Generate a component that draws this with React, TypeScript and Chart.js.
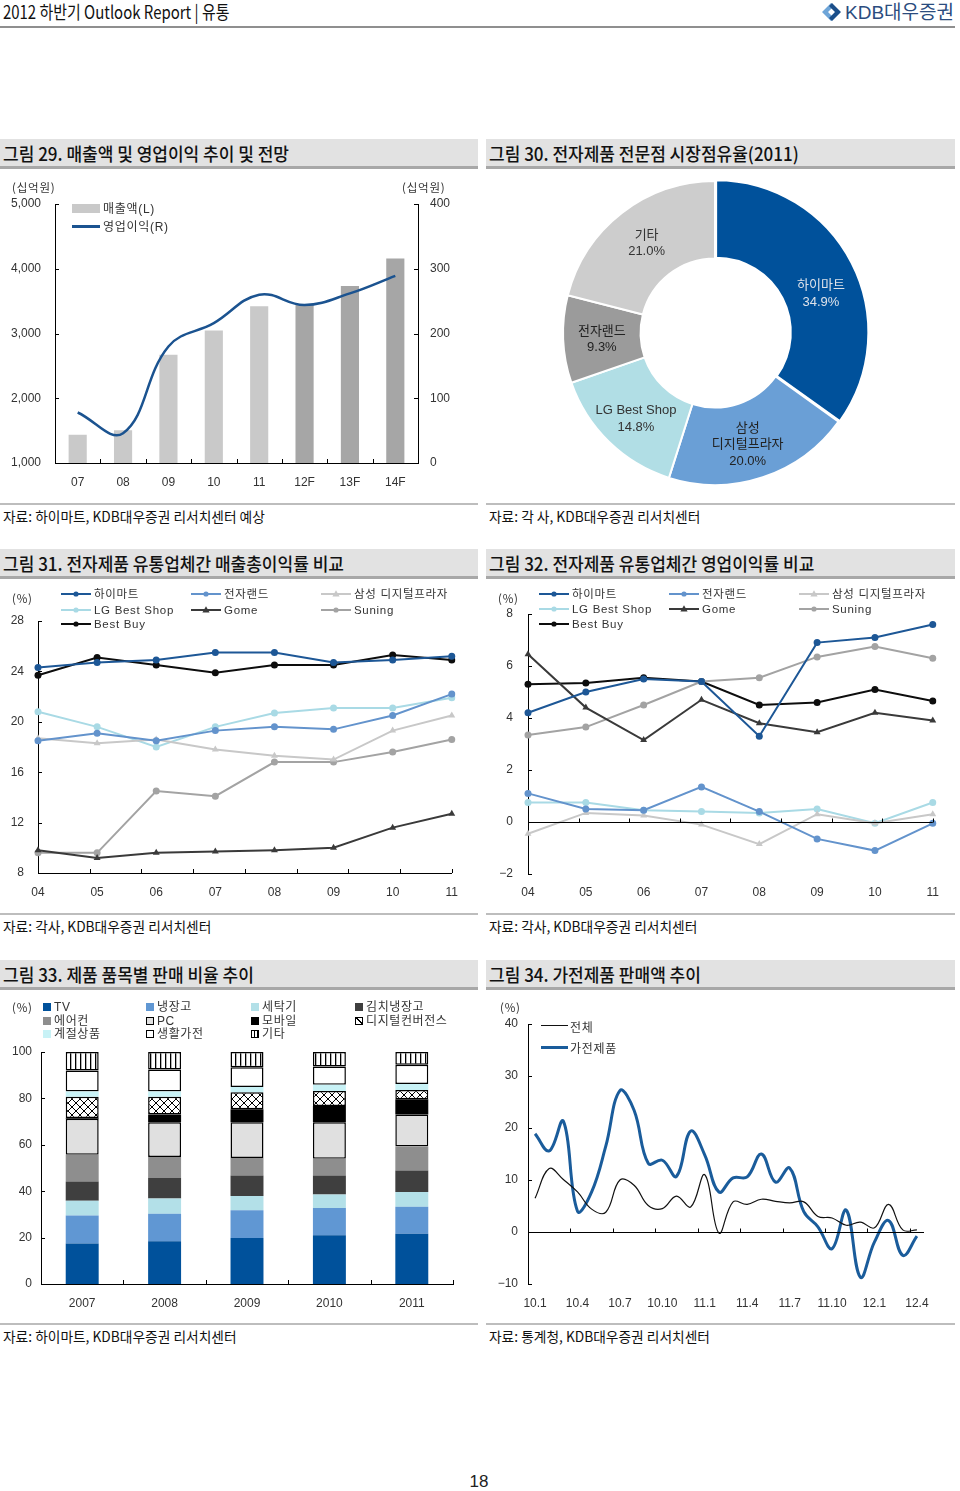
import React, { useEffect, useRef } from 'react';
import { Chart, registerables } from 'chart.js';

Chart.register(...registerables);

const KFONT = "'Noto Sans CJK KR', 'Noto Sans', sans-serif";
const NFONT = "'Liberation Sans', Arial, 'Noto Sans CJK KR', sans-serif";

// ===== Figure 29: sales & operating profit =====
const salesYears = ['07', '08', '09', '10', '11', '12F', '13F', '14F'];
const salesValues = [1437, 1504, 2671, 3046, 3422, 3442, 3735, 4157];
const opProfitValues = [78, 46, 180, 216, 260, 244, 262, 289];
const salesSeriesNames = ['매출액(L)', '영업이익(R)'];

// ===== Figure 30: market share 2011 =====
const shareLabels: (string | string[])[] = ['하이마트', ['삼성', '디지털프라자'], 'LG Best Shop', '전자랜드', '기타'];
const shareValues = [34.9, 20.0, 14.8, 9.3, 21.0];

// ===== Figures 31 / 32 =====
const retailYears = ['04', '05', '06', '07', '08', '09', '10', '11'];
const retailerNames = ['하이마트', '전자랜드', '삼성 디지털프라자', 'LG Best Shop', 'Gome', 'Suning', 'Best Buy'];
const grossHimart = [24.3, 24.7, 24.9, 25.5, 25.5, 24.7, 24.9, 25.2];
const grossEtland = [18.5, 19.1, 18.5, 19.3, 19.6, 19.4, 20.5, 22.2];
const grossSamsung = [18.7, 18.3, 18.6, 17.8, 17.3, 17.0, 19.3, 20.5];
const grossLG = [20.8, 19.6, 18.0, 19.6, 20.7, 21.1, 21.1, 21.9];
const grossGome = [9.8, 9.2, 9.6, 9.7, 9.8, 10.0, 11.6, 12.7];
const grossSuning = [9.6, 9.6, 14.5, 14.1, 16.8, 16.8, 17.6, 18.6];
const grossBestBuy = [23.7, 25.1, 24.5, 23.9, 24.5, 24.5, 25.3, 24.9];

const opHimart = [4.2, 5.0, 5.5, 5.4, 3.3, 6.9, 7.1, 7.6];
const opEtland = [1.1, 0.5, 0.45, 1.35, 0.4, -0.65, -1.1, -0.05];
const opSamsung = [-0.45, 0.35, 0.25, -0.1, -0.85, 0.3, -0.05, 0.3];
const opLG = [0.75, 0.75, 0.45, 0.4, 0.35, 0.5, -0.05, 0.75];
const opGome = [6.45, 4.4, 3.15, 4.7, 3.8, 3.45, 4.2, 3.9];
const opSuning = [3.35, 3.65, 4.5, 5.4, 5.55, 6.35, 6.75, 6.3];
const opBestBuy = [5.3, 5.35, 5.55, 5.4, 4.5, 4.6, 5.1, 4.65];

// ===== Figure 33: product mix =====
const mixYears = ['2007', '2008', '2009', '2010', '2011'];
const mixCategories = ['TV', '냉장고', '세탁기', '김치냉장고', '에어컨', 'PC', '모바일', '디지털컨버전스', '계절상품', '생활가전', '기타'];
const mixTV = [17.5, 18.4, 19.8, 21.0, 21.7];
const mixFridge = [12.0, 11.9, 12.0, 11.8, 11.6];
const mixWasher = [6.4, 6.5, 6.1, 5.8, 6.4];
const mixKimchi = [8.3, 8.9, 8.9, 8.2, 9.2];
const mixAircon = [11.5, 9.0, 7.5, 7.2, 10.4];
const mixPC = [15.5, 15.0, 15.4, 15.7, 13.8];
const mixMobile = [0.4, 3.4, 5.6, 7.0, 6.5];
const mixDigital = [9.1, 7.6, 7.3, 6.5, 4.0];
const mixSeasonal = [2.3, 2.3, 2.3, 2.7, 2.6];
const mixLiving = [9.0, 9.5, 8.5, 7.9, 8.3];
const mixOther = [8.0, 7.5, 6.6, 6.2, 5.5];

// ===== Figure 34: monthly sales growth =====
const monthLabels = [
  '10.1', '10.2', '10.3', '10.4', '10.5', '10.6', '10.7', '10.8', '10.9', '10.10', '10.11', '10.12',
  '11.1', '11.2', '11.3', '11.4', '11.5', '11.6', '11.7', '11.8', '11.9', '11.10', '11.11', '11.12',
  '12.1', '12.2', '12.3', '12.4',
];
const totalSalesGrowth = [6.5, 12.2, 10.1, 7.7, 4.4, 3.8, 10.0, 9.0, 5.1, 4.5, 6.9, 4.8, 11.0, -0.2, 5.8, 5.3, 6.3, 5.9, 5.6, 5.8, 3.0, 2.7, 1.3, 1.9, 0.8, 5.3, 0.4, 0.4];
const applianceSalesGrowth = [18.9, 15.6, 21.3, 4.0, 7.7, 16.5, 27.2, 23.4, 13.2, 13.8, 10.7, 19.4, 14.8, 7.7, 10.4, 10.6, 15.0, 9.6, 12.3, 3.9, 1.0, -3.2, 4.2, -8.7, -1.9, 2.2, -4.5, -0.8];
const growthSeriesNames = ['전체', '가전제품'];

// ===== styles =====
const retailColors = ['#1d5796', '#6393cc', '#c8c8c8', '#a9dae5', '#3a3a3a', '#a3a3a3', '#0d0d0d'];
const retailMarkers = ['circle', 'circle', 'triangle', 'circle', 'triangle', 'circle', 'circle'];
const shareColors = ['#00519b', '#6a9fd6', '#b1dee5', '#9b9b9b', '#cdcdcd'];
const shareTextColors = ['#dde2ea', '#222', '#333', '#222', '#333'];
const mixFills = ['#00519b', '#6097d3', '#b3e0e8', '#3f3f3f', '#8e8e8e', '#e0e0e0', '#000000', 'cross', '#c8f2f6', '#ffffff', 'vstripe'];
const mixBordered = [false, false, false, false, false, true, false, true, false, true, true];

const axisTicks = {
  id: 'axisTicks',
  afterDatasetsDraw(chart: any, _args: any, opts: any) {
    if (!opts || !opts.on) return;
    const ctx = chart.ctx;
    const ca = chart.chartArea;
    const len = opts.len ?? 4;
    ctx.save();
    ctx.strokeStyle = '#000';
    ctx.lineWidth = 1;
    (opts.yAxes || []).forEach((id: string) => {
      const s = chart.scales[id];
      const left = s.position === 'left';
      const x0 = left ? ca.left : ca.right;
      s.ticks.forEach((_t: any, i: number) => {
        const y = Math.round(s.getPixelForTick(i)) + 0.5;
        ctx.beginPath();
        ctx.moveTo(x0, y);
        ctx.lineTo(left ? x0 + len : x0 - len, y);
        ctx.stroke();
      });
    });
    if (opts.x) {
      const xs = chart.scales.x;
      let base = ca.bottom;
      if (opts.x.zeroAxis) {
        base = Math.round(chart.scales[opts.x.zeroAxis].getPixelForValue(0)) + 0.5;
        ctx.beginPath();
        ctx.moveTo(ca.left, base);
        ctx.lineTo(ca.right, base);
        ctx.stroke();
      }
      const n = chart.data.labels.length;
      const step = opts.x.step || 1;
      const last = opts.x.includeEnd ? n : n - 1;
      for (let i = step; i <= last; i += step) {
        const px = Math.round(xs.left + (i * xs.width) / n) + 0.5;
        ctx.beginPath();
        ctx.moveTo(px, base);
        ctx.lineTo(px, base - len);
        ctx.stroke();
      }
    }
    ctx.restore();
  },
};

const sliceLabels = {
  id: 'sliceLabels',
  afterDatasetsDraw(chart: any, _args: any, opts: any) {
    if (!opts || !opts.on) return;
    const ctx = chart.ctx;
    const meta = chart.getDatasetMeta(0);
    const ds = chart.data.datasets[0];
    ctx.save();
    ctx.font = `13px ${NFONT}`;
    ctx.textAlign = 'center';
    ctx.textBaseline = 'middle';
    meta.data.forEach((arc: any, i: number) => {
      const p = arc.tooltipPosition(false);
      const lbl = chart.data.labels[i];
      const lines = [...(Array.isArray(lbl) ? lbl : [lbl]), Number(ds.data[i]).toFixed(1) + '%'];
      const nudge = (opts.nudge && opts.nudge[i]) || [0, 0];
      const lh = 16.5;
      ctx.fillStyle = opts.colors[i];
      lines.forEach((t: string, k: number) => {
        ctx.fillText(t, p.x + nudge[0], p.y + nudge[1] + (k - (lines.length - 1) / 2) * lh);
      });
    });
    ctx.restore();
  },
};

const tickFont = { size: 12, family: NFONT };
const noGrid = { display: false, drawTicks: false };
const blackBorder = { display: true, color: '#000', width: 1 };
const minusFmt = (v: any) => (Number(v) < 0 ? '\u2212' + Math.abs(Number(v)) : String(v));

function base(padding: any, extraPlugins: any) {
  return {
    responsive: false,
    animation: false,
    devicePixelRatio: 1,
    layout: { padding },
    plugins: { legend: { display: false }, tooltip: { enabled: false }, ...extraPlugins },
  };
}

function makeFig29() {
  return {
    type: 'bar',
    data: {
      labels: salesYears,
      datasets: [
        {
          type: 'line', label: salesSeriesNames[1], data: opProfitValues, yAxisID: 'y1',
          borderColor: '#1b5390', borderWidth: 2.5, pointRadius: 0, tension: 0.4, order: 0,
        },
        {
          type: 'bar', label: salesSeriesNames[0], data: salesValues, yAxisID: 'y',
          backgroundColor: salesYears.map((y) => (y.endsWith('F') ? '#a6a6a6' : '#c9c9c9')),
          barPercentage: 0.4, categoryPercentage: 1, order: 1,
        },
      ],
    },
    options: {
      ...base({ left: 0, top: 24, right: 0, bottom: 0 }, { axisTicks: { on: true, yAxes: ['y', 'y1'], x: { includeEnd: false }, len: 4 } }),
      scales: {
        x: { grid: noGrid, border: blackBorder, ticks: { padding: 12, color: '#333', font: tickFont }, afterFit(s: any) { s.height = 32; } },
        y: {
          position: 'left', min: 1000, max: 5000, grid: noGrid, border: blackBorder,
          ticks: { stepSize: 1000, padding: 14, color: '#333', font: tickFont, callback: (v: any) => Number(v).toLocaleString('en-US') },
          afterFit(s: any) { s.width = 55; },
        },
        y1: {
          position: 'right', min: 0, max: 400, grid: noGrid, border: blackBorder,
          ticks: { stepSize: 100, padding: 12, color: '#333', font: tickFont },
          afterFit(s: any) { s.width = 52; },
        },
      },
    },
    plugins: [axisTicks],
  };
}

function makeFig30() {
  return {
    type: 'doughnut',
    data: {
      labels: shareLabels,
      datasets: [{
        data: shareValues, backgroundColor: shareColors, borderColor: '#ffffff', borderWidth: 2,
        offset: [5, 0, 0, 0, 0],
      }],
    },
    options: {
      ...base({ left: 0, right: 0, top: 0, bottom: 4 }, {
        sliceLabels: { on: true, colors: shareTextColors, nudge: [[3, 14], [-3, 4], [0, 5], [0, 2], [1, 0]] },
      }),
      radius: 152,
      cutout: '49%',
    },
    plugins: [sliceLabels],
  };
}

function retailDatasets(series: number[][]) {
  return series.map((data, i) => ({
    label: retailerNames[i], data,
    borderColor: retailColors[i], backgroundColor: retailColors[i],
    pointBackgroundColor: retailColors[i], pointBorderColor: retailColors[i],
    borderWidth: 2, pointStyle: retailMarkers[i], pointRadius: retailMarkers[i] === 'triangle' ? 4 : 3.5,
    pointBorderWidth: 0, tension: 0,
  }));
}

function makeFig31() {
  return {
    type: 'line',
    data: {
      labels: retailYears,
      datasets: retailDatasets([grossHimart, grossEtland, grossSamsung, grossLG, grossGome, grossSuning, grossBestBuy]),
    },
    options: {
      ...base({ left: 0, top: 36, right: 17, bottom: 0 }, { axisTicks: { on: true, yAxes: ['y'], x: { includeEnd: true }, len: 4 } }),
      scales: {
        x: { grid: noGrid, border: blackBorder, ticks: { padding: 12, color: '#333', font: tickFont }, afterFit(s: any) { s.height = 32; } },
        y: {
          position: 'left', min: 8, max: 28, grid: noGrid, border: blackBorder,
          ticks: { stepSize: 4, padding: 14, color: '#333', font: tickFont },
          afterFit(s: any) { s.width = 38; },
        },
      },
    },
    plugins: [axisTicks],
  };
}

function makeFig32() {
  return {
    type: 'line',
    data: {
      labels: retailYears,
      datasets: retailDatasets([opHimart, opEtland, opSamsung, opLG, opGome, opSuning, opBestBuy]),
    },
    options: {
      ...base({ left: 0, top: 29, right: 10, bottom: 0 }, { axisTicks: { on: true, yAxes: ['y'], x: { includeEnd: true, zeroAxis: 'y' }, len: 4 } }),
      scales: {
        x: { grid: noGrid, border: { display: false }, ticks: { padding: 11, color: '#333', font: tickFont }, afterFit(s: any) { s.height = 31; } },
        y: {
          position: 'left', min: -2, max: 8, grid: noGrid, border: blackBorder,
          ticks: { stepSize: 2, padding: 15, color: '#333', font: tickFont, callback: minusFmt },
          afterFit(s: any) { s.width = 48; },
        },
      },
    },
    plugins: [axisTicks],
  };
}

function makePattern(kind: string) {
  const c = document.createElement('canvas');
  const g = c.getContext('2d')!;
  if (kind === 'cross') {
    c.width = 8; c.height = 8;
    g.fillStyle = '#fff'; g.fillRect(0, 0, 8, 8);
    g.strokeStyle = '#000'; g.lineWidth = 1;
    g.beginPath(); g.moveTo(0, 0); g.lineTo(8, 8); g.moveTo(8, 0); g.lineTo(0, 8); g.stroke();
  } else {
    c.width = 5; c.height = 5;
    g.fillStyle = '#fff'; g.fillRect(0, 0, 5, 5);
    g.fillStyle = '#000'; g.fillRect(0, 0, 1.3, 5);
  }
  return g.createPattern(c, 'repeat');
}

function makeFig33() {
  const series = [mixTV, mixFridge, mixWasher, mixKimchi, mixAircon, mixPC, mixMobile, mixDigital, mixSeasonal, mixLiving, mixOther];
  return {
    type: 'bar',
    data: {
      labels: mixYears,
      datasets: series.map((data, i) => {
        const f = mixFills[i];
        const bg = f === 'cross' || f === 'vstripe' ? makePattern(f) : f;
        return {
          label: mixCategories[i], data, backgroundColor: bg,
          borderColor: '#000', borderWidth: mixBordered[i] ? 1.5 : 0, borderSkipped: false,
          barPercentage: 0.4, categoryPercentage: 1,
        };
      }),
    },
    options: {
      ...base({ left: 0, top: 57, right: 17, bottom: 0 }, { axisTicks: { on: true, yAxes: ['y'], x: { includeEnd: true }, len: 4 } }),
      scales: {
        x: { stacked: true, grid: noGrid, border: blackBorder, ticks: { padding: 12, color: '#333', font: tickFont }, afterFit(s: any) { s.height = 31; } },
        y: {
          stacked: true, position: 'left', min: 0, max: 100, grid: noGrid, border: blackBorder,
          ticks: { stepSize: 20, padding: 9, color: '#333', font: tickFont },
          afterFit(s: any) { s.width = 41; },
        },
      },
    },
    plugins: [axisTicks],
  };
}

function makeFig34() {
  return {
    type: 'line',
    data: {
      labels: monthLabels,
      datasets: [
        { label: growthSeriesNames[0], data: totalSalesGrowth, borderColor: '#111', borderWidth: 1.2, pointRadius: 0, tension: 0.4 },
        { label: growthSeriesNames[1], data: applianceSalesGrowth, borderColor: '#1a5c9b', borderWidth: 3, pointRadius: 0, tension: 0.4 },
      ],
    },
    options: {
      ...base({ left: 0, top: 29, right: 26, bottom: 0 }, { axisTicks: { on: true, yAxes: ['y'], x: { includeEnd: false, zeroAxis: 'y', step: 3 }, len: 4 } }),
      scales: {
        x: {
          offset: true, grid: noGrid, border: { display: false },
          ticks: { autoSkip: false, maxRotation: 0, padding: 12, color: '#333', font: tickFont, callback: (_v: any, i: number) => (i % 3 === 0 ? monthLabels[i] : '') },
          afterFit(s: any) { s.height = 31; },
        },
        y: {
          position: 'left', min: -10, max: 40, grid: noGrid, border: blackBorder,
          ticks: { stepSize: 10, padding: 10, color: '#333', font: tickFont, callback: minusFmt },
          afterFit(s: any) { s.width = 48; },
        },
      },
    },
    plugins: [axisTicks],
  };
}

function ChartCanvas({ x, y, w, h, make }: { x: number; y: number; w: number; h: number; make: () => any }) {
  const ref = useRef<HTMLCanvasElement | null>(null);
  useEffect(() => {
    if (!ref.current) return;
    const chart = new Chart(ref.current, make());
    return () => chart.destroy();
  }, []);
  return <canvas ref={ref} width={w} height={h} style={{ position: 'absolute', left: x, top: y, width: w, height: h }} />;
}

type TxtProps = {
  x: number; cy: number; size?: number; sx?: number; weight?: number; color?: string;
  family?: string; ls?: number; center?: boolean; children: any;
};
function Txt({ x, cy, size = 12, sx = 1, weight = 400, color = '#222', family = KFONT, ls = 0, center = false, children }: TxtProps) {
  const lh = Math.round(size * 1.4);
  const tf = center ? 'translateX(-50%)' : sx !== 1 ? `scaleX(${sx})` : undefined;
  return (
    <div style={{
      position: 'absolute', left: x, top: cy - lh / 2, height: lh, lineHeight: lh + 'px', fontSize: size,
      fontFamily: family, fontWeight: weight, color, letterSpacing: ls, whiteSpace: 'nowrap',
      transform: tf, transformOrigin: 'left center',
    }}>{children}</div>
  );
}

function TitleBar({ x, w, top, text }: { x: number; w: number; top: number; text: string }) {
  return (
    <>
      <div style={{ position: 'absolute', left: x, top, width: w, height: 27, background: '#e2e2e2', borderBottom: '3px solid #a8a8a8' }} />
      <Txt x={x + 3} cy={top + 14} size={18} sx={0.945} weight={500} color="#111">{text}</Txt>
    </>
  );
}

function SourceLine({ x, w, top, text }: { x: number; w: number; top: number; text: string }) {
  return (
    <>
      <div style={{ position: 'absolute', left: x, top, width: w, height: 0, borderTop: '2px solid #bdbdbd' }} />
      <Txt x={x + 3} cy={top + 13} size={14} sx={0.98} color="#111">{text}</Txt>
    </>
  );
}

function LegendLine({ x, cy, i }: { x: number; cy: number; i: number }) {
  const color = retailColors[i];
  const m = retailMarkers[i];
  return (
    <>
      <svg style={{ position: 'absolute', left: x, top: cy - 5 }} width={30} height={10}>
        <line x1={0} y1={5} x2={30} y2={5} stroke={color} strokeWidth={2} />
        {m === 'circle' && <circle cx={15} cy={5} r={2.6} fill={color} />}
        {m === 'triangle' && <polygon points="15,1.3 18.6,7.6 11.4,7.6" fill={color} />}
      </svg>
      <Txt x={x + 33} cy={cy} size={11.5} ls={0.7} family={NFONT} color="#333">{retailerNames[i]}</Txt>
    </>
  );
}

function RetailLegend({ cols, rows }: { cols: number[]; rows: number[] }) {
  return (
    <>
      {retailerNames.map((_n, i) => (
        <LegendLine key={i} i={i} x={cols[i % 3]} cy={rows[Math.floor(i / 3)]} />
      ))}
    </>
  );
}

function mixSwatchStyle(i: number): any {
  const f = mixFills[i];
  const st: any = { position: 'absolute', width: 8, height: 8, boxSizing: 'border-box' };
  if (mixBordered[i]) st.border = '1px solid #000';
  if (f === 'cross') {
    st.background = 'linear-gradient(to top right, #fff 45%, #000 45%, #000 60%, #fff 60%)';
  } else if (f === 'vstripe') {
    st.background = 'repeating-linear-gradient(90deg, #fff 0 2px, #000 2px 3px)';
  } else {
    st.background = f;
  }
  return st;
}

function MixLegend() {
  const cols = [43, 146, 251, 355];
  const rows = [1007, 1021, 1034];
  return (
    <>
      {mixCategories.map((name, i) => {
        const x = cols[i % 4];
        const cy = rows[Math.floor(i / 4)];
        return (
          <React.Fragment key={i}>
            <div style={{ ...mixSwatchStyle(i), left: x, top: cy - 4 }} />
            <Txt x={x + 11} cy={cy} size={12} ls={0.6} family={NFONT} color="#333">{name}</Txt>
          </React.Fragment>
        );
      })}
    </>
  );
}

export default function App() {
  return (
    <div style={{ position: 'absolute', left: 0, top: 0, width: 960, height: 1491, background: '#fff', overflow: 'hidden', fontFamily: KFONT }}>
      {/* header */}
      <Txt x={3} cy={11} size={18} sx={0.83} color="#111">2012 하반기 Outlook Report | 유통</Txt>
      <svg width={22} height={20} style={{ position: 'absolute', left: 821, top: 2 }}>
        <polygon points="10,1 1,10 10,19 13,16 7,10 13,4" fill="#6ea5d8" />
        <polygon points="11,1 20,10 11,19 8,16 14,10 8,4" fill="#1b4f8a" />
      </svg>
      <Txt x={845} cy={12} size={19} sx={1} color="#2b4c7e" family={NFONT}>KDB대우증권</Txt>
      <div style={{ position: 'absolute', left: 0, top: 26, width: 955, height: 0, borderTop: '2px solid #8f8f8f' }} />

      {/* row 1 */}
      <TitleBar x={0} w={478} top={139} text="그림 29. 매출액 및 영업이익 추이 및 전망" />
      <TitleBar x={486} w={469} top={139} text="그림 30. 전자제품 전문점 시장점유율(2011)" />

      <ChartCanvas x={0} y={180} w={470} h={315} make={makeFig29} />
      <Txt x={12} cy={187} size={11.5} ls={0.8} color="#333">(십억원)</Txt>
      <Txt x={402} cy={187} size={11.5} ls={0.8} color="#333">(십억원)</Txt>
      <div style={{ position: 'absolute', left: 72, top: 204, width: 28, height: 9, background: '#c9c9c9' }} />
      <Txt x={103} cy={209} size={12} ls={0.7} family={NFONT} color="#333">{salesSeriesNames[0]}</Txt>
      <div style={{ position: 'absolute', left: 72, top: 225, width: 28, height: 2.5, background: '#1b5390' }} />
      <Txt x={103} cy={227} size={12} ls={0.7} family={NFONT} color="#333">{salesSeriesNames[1]}</Txt>

      <ChartCanvas x={480} y={175} w={470} h={320} make={makeFig30} />

      <SourceLine x={0} w={478} top={503} text="자료: 하이마트, KDB대우증권 리서치센터 예상" />
      <SourceLine x={486} w={469} top={503} text="자료: 각 사, KDB대우증권 리서치센터" />

      {/* row 2 */}
      <TitleBar x={0} w={478} top={549} text="그림 31. 전자제품 유통업체간 매출총이익률 비교" />
      <TitleBar x={486} w={469} top={549} text="그림 32. 전자제품 유통업체간 영업이익률 비교" />

      <ChartCanvas x={0} y={585} w={470} h={320} make={makeFig31} />
      <Txt x={12} cy={598} size={11.5} ls={0.8} color="#333">(%)</Txt>
      <RetailLegend cols={[61, 191, 321]} rows={[594, 610, 624]} />

      <ChartCanvas x={480} y={585} w={470} h={320} make={makeFig32} />
      <Txt x={498} cy={598} size={11.5} ls={0.8} color="#333">(%)</Txt>
      <RetailLegend cols={[539, 669, 799]} rows={[594, 609, 624]} />

      <SourceLine x={0} w={478} top={913} text="자료: 각사, KDB대우증권 리서치센터" />
      <SourceLine x={486} w={469} top={913} text="자료: 각사, KDB대우증권 리서치센터" />

      {/* row 3 */}
      <TitleBar x={0} w={478} top={960} text="그림 33. 제품 품목별 판매 비율 추이" />
      <TitleBar x={486} w={469} top={960} text="그림 34. 가전제품 판매액 추이" />

      <ChartCanvas x={0} y={995} w={470} h={320} make={makeFig33} />
      <Txt x={12} cy={1007} size={11.5} ls={0.8} color="#333">(%)</Txt>
      <MixLegend />

      <ChartCanvas x={480} y={995} w={470} h={320} make={makeFig34} />
      <Txt x={500} cy={1007} size={11.5} ls={0.8} color="#333">(%)</Txt>
      <div style={{ position: 'absolute', left: 541, top: 1025, width: 27, height: 1.2, background: '#111' }} />
      <Txt x={570} cy={1026} size={12} ls={0.7} color="#333">{growthSeriesNames[0]}</Txt>
      <div style={{ position: 'absolute', left: 541, top: 1046, width: 27, height: 3, background: '#1a5c9b' }} />
      <Txt x={570} cy={1047} size={12} ls={0.7} color="#333">{growthSeriesNames[1]}</Txt>

      <SourceLine x={0} w={478} top={1323} text="자료: 하이마트, KDB대우증권 리서치센터" />
      <SourceLine x={486} w={469} top={1323} text="자료: 통계청, KDB대우증권 리서치센터" />

      <Txt x={479} cy={1482} size={17} family={NFONT} color="#222" center>18</Txt>
    </div>
  );
}
